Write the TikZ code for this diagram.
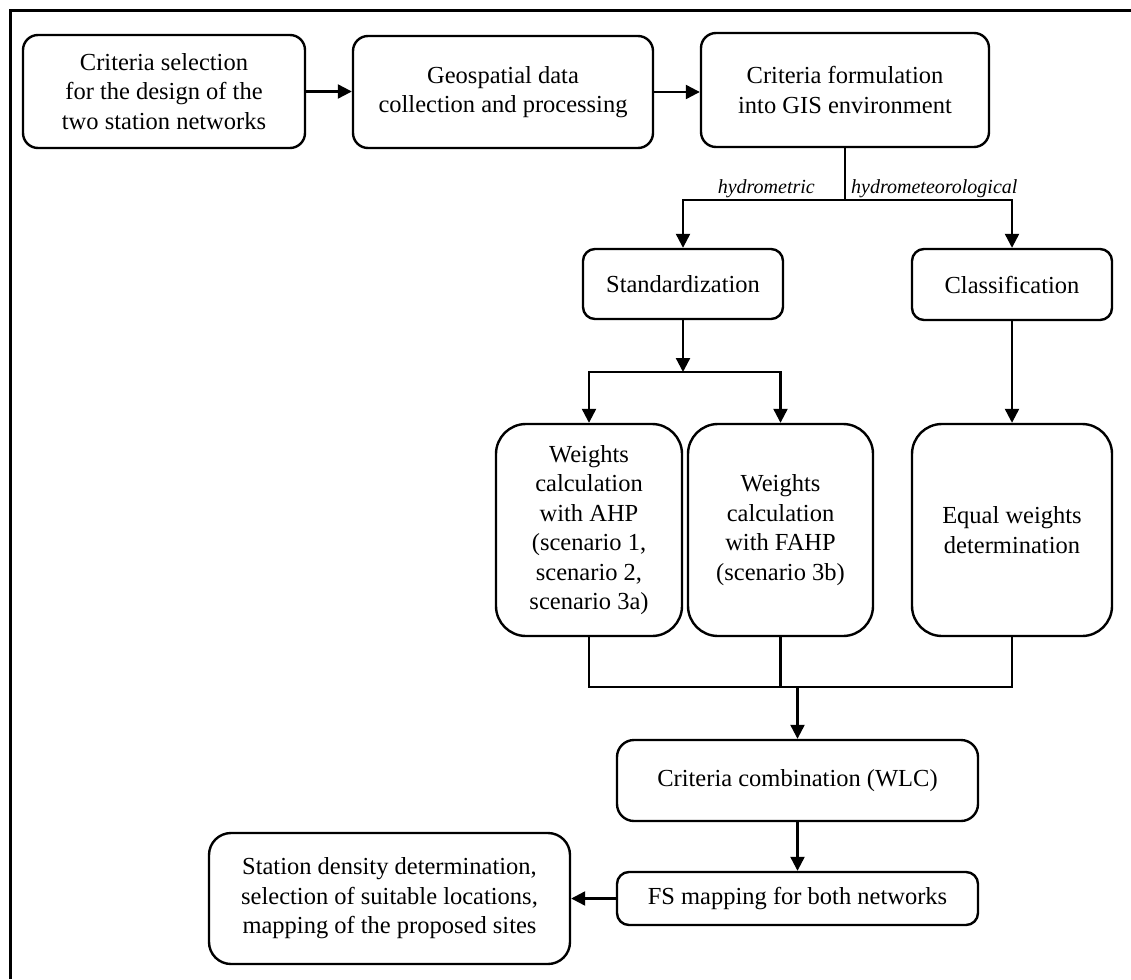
\documentclass[tikz,border=0pt]{standalone}
\usepackage{fontspec}
\setmainfont{Liberation Serif}
\usetikzlibrary{arrows.meta,calc}
\begin{document}
\begin{tikzpicture}[x=1pt,y=-1pt,
  box/.style={draw,line width=2.4pt,align=center,inner sep=0pt,
    font=\fontsize{24.5}{29.5}\selectfont},
  arr/.style={line width=2.3pt,-{Triangle[length=14pt,width=14pt]}},
  con/.style={line width=2.3pt},
  lab/.style={inner sep=0pt,font=\fontsize{20}{24}\selectfont\itshape}]
\useasboundingbox (0,0) rectangle (1131,979);
\draw[line width=3pt] (10,979) -- (10,11) -- (1135,11);
% top row
\node[box,rounded corners=15pt,minimum width=282pt,minimum height=113pt] (b1) at (164,91.5)
  {Criteria selection\\for the design of the\\two station networks};
\node[box,rounded corners=15pt,minimum width=300pt,minimum height=112pt] (b2) at (503,92)
  {Geospatial data\\collection and processing};
\node[box,rounded corners=15pt,minimum width=288pt,minimum height=114pt] (b3) at (845,90)
  {Criteria formulation\\into GIS environment};
% second row
\node[box,rounded corners=12pt,minimum width=200pt,minimum height=70pt] (std) at (683,284)
  {Standardization};
\node[box,rounded corners=12pt,minimum width=200pt,minimum height=71pt] (cls) at (1012,284.5)
  {Classification};
% third row
\node[box,rounded corners=30pt,minimum width=186pt,minimum height=212pt] (ahp) at (589,530)
  {Weights\\calculation\\with AHP\\(scenario 1,\\scenario 2,\\scenario 3a)};
\node[box,rounded corners=30pt,minimum width=185pt,minimum height=212pt] (fahp) at (780.5,530)
  {Weights\\calculation\\with FAHP\\(scenario 3b)};
\node[box,rounded corners=30pt,minimum width=200pt,minimum height=212pt] (eq) at (1012,530)
  {Equal weights\\determination};
% bottom
\node[box,rounded corners=17pt,minimum width=361pt,minimum height=81pt] (wlc) at (797.5,780.5)
  {Criteria combination (WLC)};
\node[box,rounded corners=12pt,minimum width=361pt,minimum height=53pt] (fs) at (797.5,898.5)
  {FS mapping for both networks};
\node[box,rounded corners=22pt,minimum width=361pt,minimum height=131pt] (st) at (389.5,898.5)
  {Station density determination,\\selection of suitable locations,\\mapping of the proposed sites};
% connectors
\draw[arr] (b1.east) -- (b1.east -| b2.west);
\draw[arr] (b2.east) -- (b2.east -| b3.west);
\coordinate (sp1) at (845,200);
\draw[con] (b3.south) -- (sp1);
\draw[arr] (sp1) -| (std.north);
\draw[arr] (sp1) -| (cls.north);
\node[lab,anchor=south east] (lh) at (815,198) {hydrometric};
\node[lab,anchor=south west] (lm) at (851,198) {hydrometeorological};
\coordinate (sp2) at (683,372);
\draw[arr] (std.south) -- (sp2);
\draw[arr] (sp2) -| (ahp.north);
\draw[arr] (sp2) -| (fahp.north);
\draw[arr] (cls.south) -- (eq.north);
\coordinate (jn) at (797.5,687);
\draw[con] (ahp.south) -- (ahp.south |- jn) -- (eq.south |- jn) -- (eq.south);
\draw[con] (fahp.south) -- (fahp.south |- jn);
\draw[arr] (jn) -- (wlc.north);
\draw[arr] (wlc.south) -- (fs.north);
\draw[arr] (fs.west) -- (st.east);
\end{tikzpicture}
\end{document}
